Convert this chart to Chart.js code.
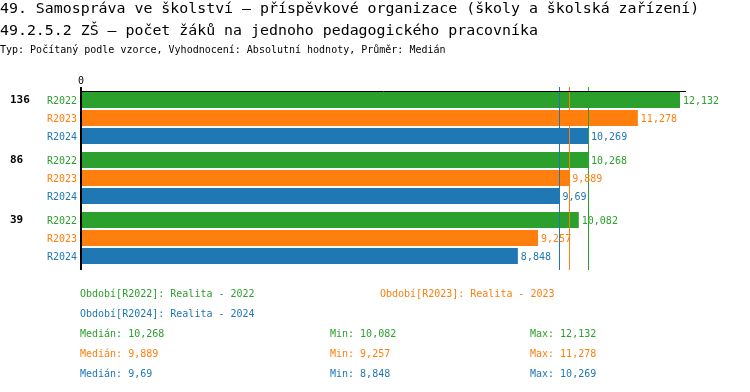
<!DOCTYPE html>
<html>
<head>
<meta charset="utf-8">
<script src="https://cdn.jsdelivr.net/npm/chart.js@4/dist/chart.umd.min.js"></script>
<style>
    body { margin: 0; background: #fff; }
    #wrap { position: relative; width: 750px; height: 392px; font-family: 'DejaVu Sans Mono', monospace; }
    #graf { position: absolute; left: 0; top: 0; }
    .t { position: absolute; white-space: nowrap; line-height: 1; }
</style>
</head>
<body>
<div id="wrap">
    <canvas id="graf" width="750" height="392"></canvas>
    <div class="t" style="left:0;top:1px;font-size:14.9px">49. Samospráva ve školství – příspěvkové organizace (školy a školská zařízení)</div>
    <div class="t" style="left:0;top:23px;font-size:14.9px">49.2.5.2 ZŠ – počet žáků na jednoho pedagogického pracovníka</div>
    <div class="t" style="left:0;top:45px;font-size:10px">Typ: Počítaný podle vzorce, Vyhodnocení: Absolutní hodnoty, Průměr: Medián</div>
    <div id="legenda"></div>
</div>
<script>
// skupiny (počet žáků školy)
const kategorie = ['136', '86', '39'];
const obdobi = ['R2022', 'R2023', 'R2024'];
const popisObdobi = ['Realita - 2022', 'Realita - 2023', 'Realita - 2024'];
const hodnoty2022 = [12.132, 10.268, 10.082];
const hodnoty2023 = [11.278, 9.889, 9.257];
const hodnoty2024 = [10.269, 9.69, 8.848];
const barvy = ['#2ca02c', '#ff7f0e', '#1f77b4'];

const serie = [hodnoty2022, hodnoty2023, hodnoty2024];
const pismo = "'DejaVu Sans Mono', monospace";

const cislo = (v) => String(v).replace('.', ',');
const median = (arr) => {
    const s = [...arr].sort((a, b) => a - b);
    const m = Math.floor(s.length / 2);
    return s.length % 2 ? s[m] : (s[m - 1] + s[m]) / 2;
};
const maximum = Math.max(...serie.flat());

// popisky a čáry mediánů
const popiskyPlugin = {
    id: 'popisky',
    afterDatasetsDraw(chart) {
        const ctx = chart.ctx;
        const x = chart.scales.x;
        const area = chart.chartArea;
        ctx.save();

        // mediány
        serie.forEach((data, i) => {
            const px = Math.round(x.getPixelForValue(median(data))) + 0.5;
            ctx.strokeStyle = barvy[i];
            ctx.lineWidth = 1;
            ctx.beginPath();
            ctx.moveTo(px, area.top - 1);
            ctx.lineTo(px, area.bottom + 2);
            ctx.stroke();
        });

        // osy
        const prvni = chart.getDatasetMeta(0).data[0];
        const horni = Math.round(prvni.y - prvni.height / 2) - 0.5;
        const nula = x.getPixelForValue(0);
        ctx.strokeStyle = '#000';
        ctx.lineWidth = 1;
        ctx.beginPath();
        ctx.moveTo(nula, horni);
        ctx.lineTo(area.right, horni);
        ctx.stroke();
        ctx.lineWidth = 2;
        ctx.beginPath();
        ctx.moveTo(nula, area.top - 1);
        ctx.lineTo(nula, area.bottom + 2);
        ctx.stroke();

        ctx.font = '10px ' + pismo;
        ctx.fillStyle = '#000';
        ctx.textAlign = 'center';
        ctx.textBaseline = 'middle';
        ctx.fillText('0', nula, area.top - 7);

        chart.data.datasets.forEach((ds, i) => {
            const meta = chart.getDatasetMeta(i);
            meta.data.forEach((bar, j) => {
                ctx.font = '10px ' + pismo;
                ctx.fillStyle = barvy[i];
                ctx.textAlign = 'left';
                ctx.fillText(cislo(ds.data[j]), bar.x + 3, bar.y + 1);
                ctx.textAlign = 'right';
                ctx.fillText(ds.label, nula - 4, bar.y + 1);
                if (i === 0) {
                    ctx.font = 'bold 11px ' + pismo;
                    ctx.fillStyle = '#000';
                    ctx.textAlign = 'left';
                    ctx.fillText(kategorie[j], 10, bar.y);
                }
            });
        });
        ctx.restore();
    }
};

new Chart(document.getElementById('graf'), {
    type: 'bar',
    data: {
        labels: kategorie,
        datasets: obdobi.map((o, i) => ({
            label: o,
            data: serie[i],
            backgroundColor: barvy[i],
            categoryPercentage: 0.9,
            barPercentage: 16 / 18,
        })),
    },
    options: {
        indexAxis: 'y',
        responsive: false,
        animation: false,
        layout: { padding: { left: 81, right: 64, top: 88, bottom: 124 } },
        scales: {
            x: { display: false, min: 0, max: maximum * 1.01 },
            y: { display: false },
        },
        plugins: { legend: { display: false }, tooltip: { enabled: false } },
    },
    plugins: [popiskyPlugin],
});

// legenda a statistiky pod grafem
const legenda = document.getElementById('legenda');
const pridej = (text, left, top, barva) => {
    const d = document.createElement('div');
    d.className = 't';
    d.style.cssText = `left:${left}px;top:${top}px;font-size:10px;color:${barva}`;
    d.textContent = text;
    legenda.appendChild(d);
};
pridej(`Období[${obdobi[0]}]: ${popisObdobi[0]}`, 80, 289, barvy[0]);
pridej(`Období[${obdobi[1]}]: ${popisObdobi[1]}`, 380, 289, barvy[1]);
pridej(`Období[${obdobi[2]}]: ${popisObdobi[2]}`, 80, 309, barvy[2]);
serie.forEach((data, i) => {
    const top = 329 + i * 20;
    pridej(`Medián: ${cislo(median(data))}`, 80, top, barvy[i]);
    pridej(`Min: ${cislo(Math.min(...data))}`, 330, top, barvy[i]);
    pridej(`Max: ${cislo(Math.max(...data))}`, 530, top, barvy[i]);
});
</script>
</body>
</html>
